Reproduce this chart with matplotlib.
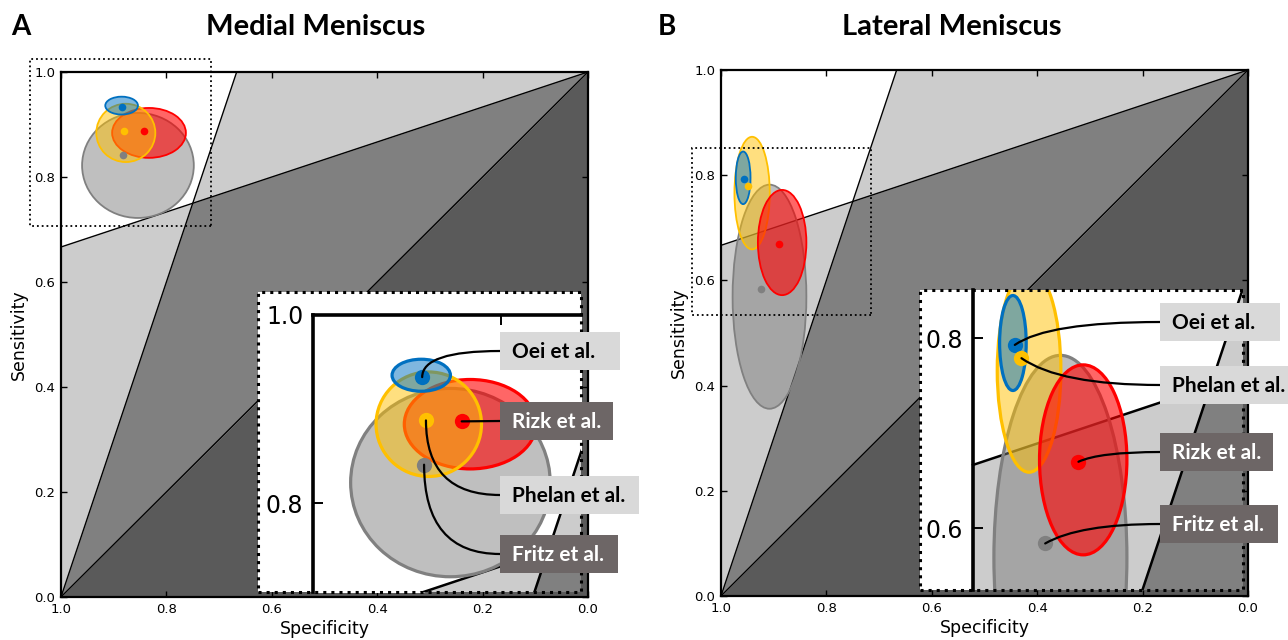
import numpy as np
import matplotlib
matplotlib.use("Agg")
import matplotlib.pyplot as plt
from matplotlib.patches import Ellipse, Rectangle
from matplotlib.colors import to_rgba

W, H = 1288, 640

studies = ['Oei et al.', 'Phelan et al.', 'Rizk et al.', 'Fritz et al.']
colors = ['#0070c0', '#ffc000', '#ff0000', '#808080']
fill_alpha = [0.5, 0.5, 0.6, 0.5]
box_dark = [False, False, True, True]

# medial meniscus: pooled point (specificity, sensitivity) and confidence ellipse
med_spec = [0.884, 0.880, 0.842, 0.882]
med_sens = [0.934, 0.888, 0.887, 0.841]
med_ell_spec = [0.885, 0.877, 0.833, 0.854]
med_ell_sens = [0.936, 0.884, 0.884, 0.822]
med_ell_w = [0.062, 0.112, 0.140, 0.212]
med_ell_h = [0.034, 0.111, 0.095, 0.200]

# lateral meniscus
lat_spec = [0.956, 0.949, 0.889, 0.924]
lat_sens = [0.793, 0.779, 0.670, 0.584]
lat_ell_spec = [0.958, 0.941, 0.884, 0.908]
lat_ell_sens = [0.795, 0.766, 0.672, 0.569]
lat_ell_w = [0.028, 0.067, 0.092, 0.140]
lat_ell_h = [0.100, 0.214, 0.200, 0.426]

# likelihood ratio cut-offs for the shaded zones
lr_pos = 3.0
lr_neg = 1.0 / 3.0
ticks = [0.0, 0.2, 0.4, 0.6, 0.8, 1.0]

LIGHT, MID, DARK = '#cccccc', '#808080', '#5a5a5a'
LABEL_FONT = ['Lato', 'DejaVu Sans']


def px_rect(x0, y0, x1, y1):
    # figure pixels (top-left origin) -> figure fraction rect
    return [x0 / W, 1 - y1 / H, (x1 - x0) / W, (y1 - y0) / H]


def shade(ax, lw):
    s = np.linspace(0, 1, 1001)
    diag = 1 - s
    pos = np.clip(lr_pos * (1 - s), 0, 1)
    neg = np.clip(1 - lr_neg * s, 0, 1)
    ax.fill_between(s, 0, diag, color=DARK, lw=0, zorder=0)
    ax.fill_between(s, diag, 1, color=MID, lw=0, zorder=0)
    ax.fill_between(s, np.minimum(pos, neg), 1, color=LIGHT, lw=0, zorder=0)
    ax.fill_between(s, np.maximum(pos, neg), 1, color='white', lw=0, zorder=0)
    ax.plot(s, diag, color='k', lw=lw, zorder=1)
    m = lr_pos * (1 - s) <= 1
    ax.plot(s[m], lr_pos * (1 - s[m]), color='k', lw=lw, zorder=1)
    ax.plot(s, 1 - lr_neg * s, color='k', lw=lw, zorder=1)


def studies_on(ax, spec, sens, es, en, ew, eh, order, elw, ms):
    for i in order:
        ax.add_patch(Ellipse((es[i], en[i]), ew[i], eh[i],
                             facecolor=to_rgba(colors[i], fill_alpha[i]),
                             edgecolor=colors[i], lw=elw, zorder=3 + order.index(i) * 0.1))
    for i in range(4):
        ax.plot(spec[i], sens[i], 'o', color=colors[i], ms=ms, mec='none', zorder=4)


def panel(fig, main_px, title, title_x, letter, letter_x, data, order,
          frame_px, zoom_x, zoom_y, inset_yticks, top_spine, box_x, box_tops, styles):
    spec, sens, es, en, ew, eh = data
    ax = fig.add_axes(px_rect(*main_px))
    shade(ax, 1.0)
    studies_on(ax, spec, sens, es, en, ew, eh, order, 1.3, 5.5)
    ax.set_xlim(1, 0)
    ax.set_ylim(0, 1)
    ax.set_xticks(ticks)
    ax.set_yticks(ticks)
    ax.set_xticklabels(['%.1f' % t for t in ticks])
    ax.set_yticklabels(['%.1f' % t for t in ticks])
    ax.tick_params(direction='in', length=4, width=1, top=True, right=True,
                   labelsize=9.5, pad=4)
    for sp in ax.spines.values():
        sp.set_linewidth(1.6)
    ax.set_xlabel('Specificity', fontsize=12.5, labelpad=3)
    ax.set_ylabel('Sensitivity', fontsize=12.5, labelpad=5)
    # zoom window marker
    ax.add_patch(Rectangle((zoom_x[1], zoom_y[0]), zoom_x[0] - zoom_x[1], zoom_y[1] - zoom_y[0],
                           fill=False, ls=':', lw=1.3, ec='k', clip_on=False, zorder=6))

    fig.text(title_x / W, 1 - 27 / H, title, ha='center', va='center', fontsize=21,
             fontweight='bold', family=LABEL_FONT)
    fig.text(letter_x / W, 1 - 27 / H, letter, ha='left', va='center', fontsize=20,
             fontweight='bold', family=LABEL_FONT)

    # magnified inset
    axi = fig.add_axes(px_rect(*frame_px))
    axi.set_zorder(5)
    axi.set_facecolor('white')
    shade(axi, 1.8)
    studies_on(axi, spec, sens, es, en, ew, eh, order, 2.3, 11)
    axi.set_xlim(*zoom_x)
    axi.set_ylim(*zoom_y)
    for k in ['right', 'bottom', 'top']:
        axi.spines[k].set_visible(False)
    axi.spines['left'].set_position(('data', 1.0))
    axi.spines['left'].set_linewidth(2.6)
    axi.spines['left'].set_bounds(zoom_y[0], min(1.0, zoom_y[1]))
    axi.set_yticks(inset_yticks)
    axi.set_yticklabels(['%.1f' % t for t in inset_yticks])
    axi.tick_params(axis='y', direction='in', length=7, width=1.4, labelsize=17, pad=7)
    if top_spine:
        axi.spines['top'].set_visible(True)
        axi.spines['top'].set_position(('data', 1.0))
        axi.spines['top'].set_linewidth(2.6)
        axi.spines['top'].set_bounds(zoom_x[1], 1.0)
        axi.xaxis.set_ticks_position('top')
        axi.set_xticks([1.0, 0.8])
        axi.set_xticklabels([])
        axi.tick_params(axis='x', direction='in', length=7, width=1.4)
    else:
        axi.set_xticks([])
    axi.add_patch(Rectangle((0, 0), 1, 1, transform=axi.transAxes, fill=False,
                            ls=':', lw=2.2, ec='k', clip_on=False, zorder=8))

    box_w = [120, 139, 113, 118]
    box_h = 38
    for i in range(4):
        top = box_tops[i]
        fc = '#6d6666' if box_dark[i] else '#d9d9d9'
        tc = 'white' if box_dark[i] else 'black'
        fig.add_artist(Rectangle((box_x / W, 1 - (top + box_h) / H), box_w[i] / W, box_h / H,
                                 transform=fig.transFigure, facecolor=fc, edgecolor='none',
                                 zorder=10))
        fig.text((box_x + 12) / W, 1 - (top + box_h / 2 + 1) / H, studies[i], ha='left',
                 va='center', fontsize=15, fontweight='bold', color=tc,
                 family=LABEL_FONT, zorder=11)
        axi.annotate('', xy=(spec[i], sens[i]), xycoords='data',
                     xytext=(box_x / W, 1 - (top + box_h / 2) / H), textcoords='figure fraction',
                     arrowprops=dict(arrowstyle='-', color='k', lw=1.6, shrinkA=0, shrinkB=0,
                                     connectionstyle=styles[i]),
                     annotation_clip=False, zorder=9)


fig = plt.figure(figsize=(W / 100, H / 100), dpi=100)

panel(fig, (61, 72, 588, 597), 'Medial Meniscus', 316, 'A', 11,
      (med_spec, med_sens, med_ell_spec, med_ell_sens, med_ell_w, med_ell_h),
      [3, 2, 1, 0],
      (258, 292, 581, 592), (1.0584, 0.7153), (0.7058, 1.0244), [0.8, 1.0], True,
      500, [332, 476, 402, 535],
      ['angle3,angleA=0,angleB=90', 'angle3,angleA=0,angleB=90',
       'arc3,rad=0', 'angle3,angleA=0,angleB=90'])

panel(fig, (721, 70, 1248, 596), 'Lateral Meniscus', 952, 'B', 658,
      (lat_spec, lat_sens, lat_ell_spec, lat_ell_sens, lat_ell_w, lat_ell_h),
      [3, 1, 2, 0],
      (920, 290, 1243, 590), (1.0558, 0.7158), (0.535, 0.8508), [0.6, 0.8], False,
      1160, [303, 366, 433, 505],
      ['angle3,angleA=0,angleB=35', 'angle3,angleA=0,angleB=-35',
       'angle3,angleA=0,angleB=25', 'angle3,angleA=0,angleB=30'])

fig.savefig('out.png', dpi=100)
